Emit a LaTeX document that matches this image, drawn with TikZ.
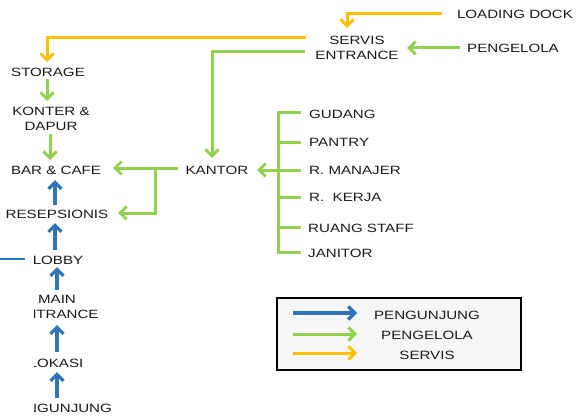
\documentclass[tikz,border=0pt]{standalone}
\usepackage{fontspec}
\setmainfont{Liberation Sans}[FakeStretch=1.26]
\usetikzlibrary{arrows.meta}
\definecolor{yel}{HTML}{FFC000}
\definecolor{grn}{HTML}{92D050}
\definecolor{blu}{HTML}{2F73B8}
\definecolor{txt}{HTML}{1A1A1A}
\begin{document}
\begin{tikzpicture}[x=1pt,y=-1pt,
  lbl/.style={inner sep=0pt,font=\fontsize{12}{15}\selectfont,text=txt,align=center},
  tip/.style={-{Straight Barb[length=6.5pt,width=13pt]}},
  yline/.style={draw=yel,line width=3pt},
  gline/.style={draw=grn,line width=3pt},
  bline/.style={draw=blu,line width=3.2pt},
  lbox/.style={draw=black,line width=2.2pt,fill=gray!7}]
\useasboundingbox (0,0) rectangle (577,417);
% nodes
\node[lbl] (loading) at (515,14) {LOADING DOCK};
\node[lbl] (servis) at (357,48) {SERVIS\\ENTRANCE};
\node[lbl] (pengelola) at (513,48) {PENGELOLA};
\node[lbl] (storage) at (48,72) {STORAGE};
\node[lbl] (konter) at (51,119) {KONTER \&\\DAPUR};
\node[lbl] (bar) at (56,170) {BAR \& CAFE};
\node[lbl] (resep) at (57,214) {RESEPSIONIS};
\node[lbl] (kantor) at (217,170) {KANTOR};
\node[lbl,anchor=west] (gudang) at (309,114) {GUDANG};
\node[lbl,anchor=west] (pantry) at (309,142) {PANTRY};
\node[lbl,anchor=west] (manajer) at (309,170) {R. MANAJER};
\node[lbl,anchor=west] (kerja) at (309,197) {R.\ \ KERJA};
\node[lbl,anchor=west] (staff) at (308,228) {RUANG STAFF};
\node[lbl,anchor=west] (janitor) at (308,253) {JANITOR};
\node[lbl] (lobby) at (58,260) {LOBBY};
\node[lbl] (main) at (57,307) {MAIN\\ENTRANCE};
\node[lbl] (lokasi) at (56,363) {LOKASI};
\node[lbl] (pengunjung) at (59,408) {PENGUNJUNG};
% coordinates
\coordinate (ld0) at (442,14);
\coordinate (ld1) at (347,14);
\coordinate (ld2) at (347,28);
\coordinate (sy0) at (306,38);
\coordinate (sy1) at (47,38);
\coordinate (sy2) at (47,62);
\coordinate (sg0) at (305,52);
\coordinate (sg1) at (212,52);
\coordinate (sg2) at (212,158);
\coordinate (br0) at (278,112);
\coordinate (br1) at (278,252);
\coordinate (brm) at (278,170);
\coordinate (k0) at (178,168);
\coordinate (k1) at (113,168);
\coordinate (kb) at (155,168);
\coordinate (kb1) at (155,213);
\coordinate (kb2) at (118,213);
\coordinate (lobL) at (0,259);
% yellow
\draw[yline,tip] (ld0) -- (ld1) -- (ld2);
\draw[yline,tip] (sy0) -- (sy1) -- (sy2);
% green
\draw[gline,tip] (sg0) -- (sg1) -- (sg2);
\draw[gline,tip] (pengelola.west) ++(-7,0) -- (407,48);
\draw[gline,tip] (47,79) -- (47,101);
\draw[gline,tip] (50,134) -- (50,160);
\draw[gline,tip] (k0) -- (k1);
\draw[gline,tip] (kb) -- (kb1) -- (kb2);
\draw[gline] (br0) -- (br1);
\foreach \yy in {112,142,170,197,227,252}
  \draw[gline] (277,\yy) -- (301,\yy);
\draw[gline,tip] (brm) -- (257,170);
% blue
\draw[bline,tip] (55,205) -- (55,180);
\draw[bline,tip] (55,250) -- (55,223);
\draw[bline,tip] (57,290) -- (57,267);
\draw[bline,tip] (57,352) -- (57,325);
\draw[bline,tip] (57,398) -- (57,372);
\draw[draw=blu,line width=1.8pt] (25,259) -- (lobL);
% mask at the cut left edge
\fill[white] (0,282) rectangle (34,417);
% legend
\draw[lbox] (277,298) rectangle (521,370);
\draw[bline,tip] (293,313) -- (357,313);
\draw[gline,tip] (293,334) -- (357,334);
\draw[yline,tip] (293,353) -- (357,353);
\node[lbl] (lg1) at (427,315) {PENGUNJUNG};
\node[lbl] (lg2) at (427,335) {PENGELOLA};
\node[lbl] (lg3) at (427,355) {SERVIS};
\end{tikzpicture}
\end{document}
